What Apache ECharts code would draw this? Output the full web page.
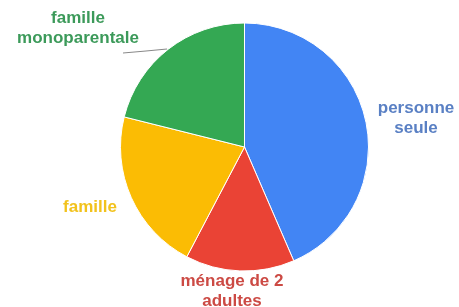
<!DOCTYPE html>
<html><head><meta charset="utf-8">
<script src="https://cdn.jsdelivr.net/npm/echarts@6/dist/echarts.min.js"></script>
<style>html,body{margin:0;padding:0;background:#fff}#c{width:459px;height:307px}</style>
</head><body><div id="c"></div>
<script>
const categories = ["personne\nseule", "ménage de 2\nadultes", "famille", "famille\nmonoparentale"];
const values = [43.5, 14.2, 21.2, 21.1];
const sliceColors = ["#4285F4", "#EA4335", "#FBBC04", "#34A853"];
const labelColors = ["#5a80c4", "#cc4a44", "#f2c21c", "#3c9a5a"];
const labelPos = [[416, 118], [232, 291], [90, 207], [78, 28]];

const chart = echarts.init(document.getElementById('c'));
chart.setOption({
  animation: false,
  series: [{
    type: 'pie',
    center: [244.5, 147],
    radius: [0, 124],
    startAngle: 90,
    clockwise: true,
    data: categories.map((n, i) => ({
      name: n, value: values[i],
      itemStyle: { color: sliceColors[i] },
      label: { color: labelColors[i] },
      labelLine: { show: i === 3 }
    })),
    itemStyle: { borderColor: '#fff', borderWidth: 1 },
    label: {
      show: true, position: 'outside', formatter: '{b}', overflow: 'none',
      fontFamily: '"Liberation Sans", Arial, sans-serif', fontWeight: 'bold', fontSize: 17,
      lineHeight: 20, align: 'center'
    },
    labelLine: { lineStyle: { color: '#888', width: 1 } },
    labelLayout: function (p) {
      const i = p.dataIndex;
      const r = { x: labelPos[i][0], y: labelPos[i][1], align: 'center', verticalAlign: 'middle' };
      if (i === 3) r.labelLinePoints = [[167, 49], [146, 51], [123, 53]];
      return r;
    }
  }]
});
</script></body></html>
